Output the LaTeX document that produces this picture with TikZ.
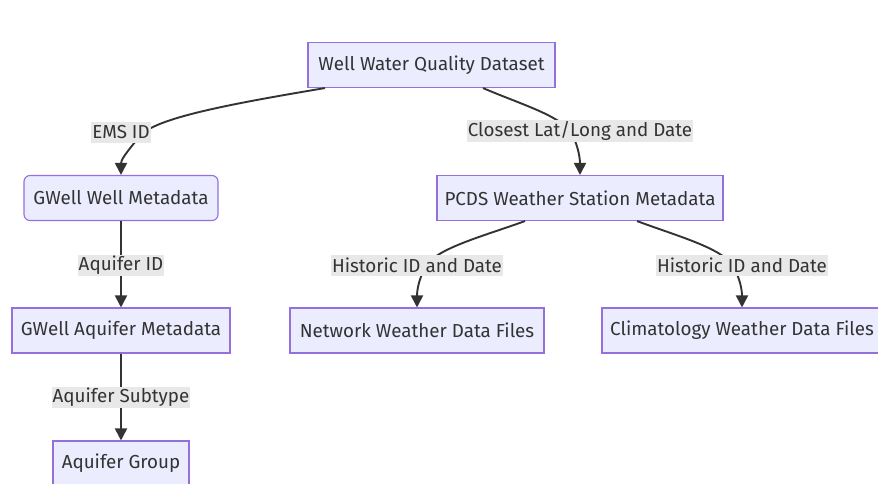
\documentclass[tikz,border=0pt]{standalone}
\usepackage{fontspec}
\setmainfont{Fira Sans}
\usetikzlibrary{positioning,arrows.meta}
\definecolor{boxfill}{HTML}{ECECFF}
\definecolor{boxline}{HTML}{9370DB}
\definecolor{ink}{HTML}{333333}
\definecolor{lblfill}{HTML}{E8E8E8}
\tikzset{
  box/.style={draw=boxline,fill=boxfill,line width=1.1pt,minimum height=45pt,
    inner sep=0pt,text=ink,font=\fontsize{18.8}{22}\selectfont},
  roundbox/.style={box,rounded corners=6pt},
  lbl/.style={fill=lblfill,text=ink,inner xsep=1pt,inner ysep=1pt,minimum height=21pt,
    font=\fontsize{18.8}{22}\selectfont},
  edge/.style={draw=ink,line width=1.9pt,-{Triangle[length=12pt,width=12pt]}}
}
\begin{document}
\begin{tikzpicture}[x=1pt,y=-1pt]
\useasboundingbox (0,0) rectangle (878,483);
% tables
\node[box,minimum width=247pt] (ds) at (431.5,65) {Well Water Quality Dataset};
\node[roundbox,minimum width=194pt] (gwell) at (121,198) {GWell Well Metadata};
\node[box,minimum width=286pt] (pcds) at (580,198) {PCDS Weather Station Metadata};
\node[box,minimum width=218pt] (aquifer) at (121,330.5) {GWell Aquifer Metadata};
\node[box,minimum width=254pt] (network) at (417,330.5) {Network Weather Data Files};
\node[box,minimum width=280pt] (climate) at (742,330.5) {Climatology Weather Data Files};
\node[box,minimum width=136pt] (group) at (121,463.5) {Aquifer Group};
% joins
\draw[edge] ([xshift=-106.5pt]ds.south) .. controls (230,104) and (155,118) .. (140,136)
  .. controls (125,154) and (121,160) .. (gwell.north);
\draw[edge] ([xshift=51.5pt]ds.south) .. controls (520,104) and (562,116) .. (572,134)
  .. controls (579,148) and (580,160) .. (pcds.north);
\draw[edge] (gwell) -- (aquifer);
\draw[edge] ([xshift=-55pt]pcds.south) .. controls (484,236) and (437,248) .. (426,266)
  .. controls (418,280) and (417,292) .. (network.north);
\draw[edge] ([xshift=57pt]pcds.south) .. controls (677,236) and (722,248) .. (733,266)
  .. controls (741,280) and (742,292) .. (climate.north);
\draw[edge] (aquifer) -- (group);
% keys
\node[lbl] (emsid) at (121,132) {EMS ID};
\node[lbl] (latlong) at (580,131) {Closest Lat/Long and Date};
\node[lbl] (aqid) at (121,265) {Aquifer ID};
\node[lbl] (histnet) at (417,265) {Historic ID and Date};
\node[lbl] (histclim) at (742,265) {Historic ID and Date};
\node[lbl] (subtype) at (121,397) {Aquifer Subtype};
\end{tikzpicture}
\end{document}
